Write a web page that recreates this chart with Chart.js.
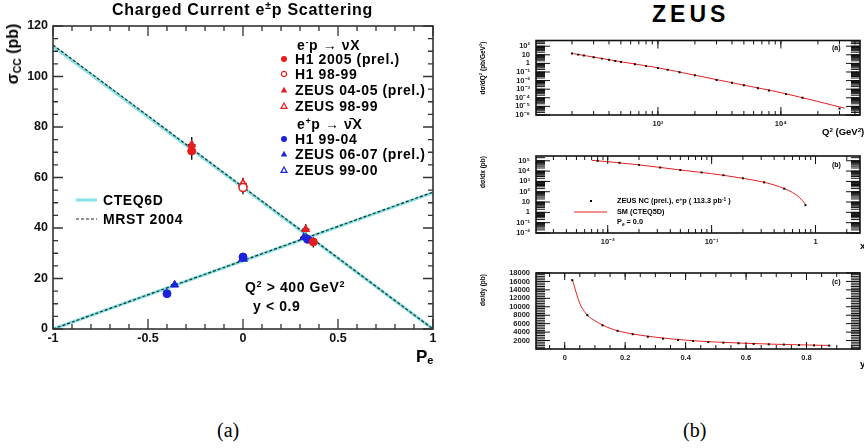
<!DOCTYPE html>
<html>
<head>
<meta charset="utf-8">
<script src="https://cdn.jsdelivr.net/npm/chart.js@4.4.1/dist/chart.umd.min.js"></script>
<style>
  html, body { margin: 0; padding: 0; background: #fff; overflow: hidden; }
  #page { position: relative; width: 864px; height: 448px; overflow: hidden;
          font-family: "Liberation Sans", Arial, Helvetica, sans-serif; color: #000; }
  canvas { position: absolute; }
  .t { position: absolute; white-space: nowrap; font-weight: bold; line-height: 1; transform: translateY(-50%); }
  .lg { font-size: 14px; letter-spacing: 0.6px; }
  .rot { position: absolute; white-space: nowrap; font-weight: bold; line-height: 1;
         transform: translate(-50%, -50%) rotate(-90deg); }
  .cap { position: absolute; font-family: "Liberation Serif", "Times New Roman", serif; font-size: 20px;
         transform: translateY(-50%); line-height: 1; }
  svg { position: absolute; overflow: visible; }
  sup { font-size: 65%; vertical-align: 0.55em; line-height: 0; }
  sub { font-size: 65%; vertical-align: -0.25em; line-height: 0; }
</style>
</head>
<body>
<div id="page">
  <canvas id="ccChart" width="440" height="380" style="left:0;top:0"></canvas>
  <canvas id="q2Chart" width="404" height="110" style="left:460px;top:30px"></canvas>
  <canvas id="xChart" width="404" height="110" style="left:460px;top:145px"></canvas>
  <canvas id="yChart" width="404" height="110" style="left:460px;top:262px"></canvas>

  <!-- panel (a) texts -->
  <div class="t" style="left:112px;top:10px;font-size:16px;letter-spacing:0.75px">Charged Current e<sup>±</sup>p Scattering</div>
  <div class="rot" style="left:13px;top:54px;font-size:16px">σ<sub>CC</sub> (pb)</div>
  <div class="t" style="left:416px;top:356px;font-size:17px">P<sub>e</sub></div>

  <div class="t lg" style="left:297px;top:45px">e<sup>-</sup>p → νX</div>
  <svg style="left:284px;top:59px" width="1" height="1"><circle cx="0" cy="0" r="3" fill="#e81c1c"/></svg>
  <div class="t lg" style="left:295px;top:59px">H1 2005 (prel.)</div>
  <svg style="left:284px;top:74px" width="1" height="1"><circle cx="0" cy="0" r="2.6" fill="none" stroke="#e81c1c" stroke-width="1.2"/></svg>
  <div class="t lg" style="left:295px;top:74px">H1 98-99</div>
  <svg style="left:284px;top:90px" width="1" height="1"><path d="M0,-3.2 L3.2,2.5 L-3.2,2.5 Z" fill="#e81c1c"/></svg>
  <div class="t lg" style="left:295px;top:90px">ZEUS 04-05 (prel.)</div>
  <svg style="left:284px;top:106px" width="1" height="1"><path d="M0,-3 L3,2.4 L-3,2.4 Z" fill="none" stroke="#e81c1c" stroke-width="1.2"/></svg>
  <div class="t lg" style="left:295px;top:106px">ZEUS 98-99</div>
  <div class="t lg" style="left:297px;top:124px">e<sup>+</sup>p → ν̄X</div>
  <svg style="left:284px;top:139px" width="1" height="1"><circle cx="0" cy="0" r="3" fill="#1a22dd"/></svg>
  <div class="t lg" style="left:295px;top:139px">H1 99-04</div>
  <svg style="left:284px;top:154px" width="1" height="1"><path d="M0,-3.2 L3.2,2.5 L-3.2,2.5 Z" fill="#1a22dd"/></svg>
  <div class="t lg" style="left:295px;top:154px">ZEUS 06-07 (prel.)</div>
  <svg style="left:284px;top:170px" width="1" height="1"><path d="M0,-3 L3,2.4 L-3,2.4 Z" fill="none" stroke="#1a22dd" stroke-width="1.2"/></svg>
  <div class="t lg" style="left:295px;top:170px">ZEUS 99-00</div>

  <svg style="left:76px;top:200px" width="1" height="1"><line x1="0" y1="0" x2="21" y2="0" stroke="#86e2e4" stroke-width="3"/></svg>
  <div class="t lg" style="left:103px;top:200px">CTEQ6D</div>
  <svg style="left:76px;top:219px" width="1" height="1"><line x1="0" y1="0" x2="21" y2="0" stroke="#222" stroke-width="1.2" stroke-dasharray="3,2"/></svg>
  <div class="t lg" style="left:103px;top:219px">MRST 2004</div>

  <div class="t lg" style="left:245px;top:287px">Q<sup>2</sup> &gt; 400 GeV<sup>2</sup></div>
  <div class="t lg" style="left:253px;top:306px">y &lt; 0.9</div>

  <!-- panel (b) texts -->
  <div class="t" style="left:652px;top:14px;font-size:23px;letter-spacing:4px">ZEUS</div>
  <div class="rot" style="left:483px;top:68px;font-size:6.5px">dσ/dQ<sup>2</sup> (pb/GeV<sup>2</sup>)</div>
  <div class="rot" style="left:483px;top:172px;font-size:6.5px">dσ/dx (pb)</div>
  <div class="rot" style="left:483px;top:290px;font-size:6.5px">dσ/dy (pb)</div>
  <div class="t" style="left:832px;top:47px;font-size:7px">(a)</div>
  <div class="t" style="left:832px;top:164px;font-size:7px">(b)</div>
  <div class="t" style="left:832px;top:281px;font-size:7px">(c)</div>
  <div class="t" style="left:822px;top:132px;font-size:9.5px">Q<sup>2</sup> (GeV<sup>2</sup>)</div>
  <div class="t" style="left:860px;top:246px;font-size:9.5px">x</div>
  <div class="t" style="left:860px;top:364px;font-size:9.5px">y</div>

  <svg style="left:591px;top:201px" width="1" height="1"><rect x="-1" y="-1" width="2" height="2" fill="#000"/></svg>
  <div class="t" style="left:617px;top:201px;font-size:7.3px">ZEUS NC (prel.), e<sup>+</sup>p ( 113.3 pb<sup>-1</sup> )</div>
  <svg style="left:574px;top:212px" width="1" height="1"><line x1="0" y1="0" x2="33" y2="0" stroke="#e82020" stroke-width="1"/></svg>
  <div class="t" style="left:617px;top:212px;font-size:7.3px">SM (CTEQ5D)</div>
  <div class="t" style="left:617px;top:222px;font-size:7.3px">P<sub>e</sub> = 0.0</div>

  <div class="cap" style="left:217px;top:430px">(a)</div>
  <div class="cap" style="left:683px;top:430px">(b)</div>
</div>

<script>
// ---------- panel (a): sigma_CC vs lepton polarisation ----------
const peEnds = [-1, 1];
const cteqEminus = [112, 0];
const cteqEplus = [0, 54];
const mrstEminus = [112.5, 0];
const mrstEplus = [0, 54.2];

const h1_2005_pe = [-0.27, 0.37];
const h1_2005_xs = [70.5, 34.5];
const h1_2005_err = [3.5, 2.2];
const h1_9899_pe = [0.0];
const h1_9899_xs = [56.0];
const h1_9899_err = [2.6];
const zeus0405_pe = [-0.27, 0.33];
const zeus0405_xs = [73.0, 39.5];
const zeus0405_err = [3.0, 2.0];
const zeus9899_pe = [0.0];
const zeus9899_xs = [57.5];
const zeus9899_err = [2.4];
const h19904_pe = [-0.40, 0.0, 0.34];
const h19904_xs = [14.0, 28.5, 35.5];
const h19904_err = [1.0, 1.0, 1.4];
const zeus0607_pe = [-0.36, 0.32];
const zeus0607_xs = [17.5, 36.3];
const zeus0607_err = [0.9, 1.5];
const zeus9900_pe = [0.0];
const zeus9900_xs = [27.8];
const zeus9900_err = [1.0];

const ccTicksX = [-1, -0.5, 0, 0.5, 1];
const ccTicksY = [0, 20, 40, 60, 80, 100, 120];

// ---------- panel (b): ZEUS NC e+p ----------
const q2Bins = [200, 225, 250, 300, 350, 400, 450, 500, 650, 800, 1000, 1200, 1500, 2000, 3000, 4000, 5000, 6500, 8000, 11000, 15000, 30000];
const dsdq2 = [14, 10.5, 8.3, 5.3, 3.6, 2.6, 1.95, 1.5, 0.8, 0.5, 0.3, 0.18, 0.093, 0.041, 0.012, 0.0055, 0.0029, 0.0013, 0.00069, 0.00027, 0.0001, 0.0000055];
const smQ2 = [200, 300, 500, 1000, 2000, 5000, 10000, 20000, 33000];
const smDsdq2 = [14.5, 5.4, 1.55, 0.31, 0.042, 0.003, 0.0004, 0.000037, 0.0000062];
const q2TicksX = [1000, 10000];
const q2TicksY = [1e-6, 1e-5, 1e-4, 1e-3, 1e-2, 1e-1, 1, 10, 100];

const xBins = [0.008, 0.013, 0.02, 0.032, 0.05, 0.08, 0.13, 0.2, 0.32, 0.5, 0.8];
const dsdx = [1.0e5, 6.3e4, 4.0e4, 2.2e4, 1.26e4, 7.4e3, 4.0e3, 2.0e3, 800, 200, 5];
const smX = [0.007, 0.01, 0.02, 0.05, 0.1, 0.2, 0.3, 0.4, 0.5, 0.6, 0.7, 0.8];
const smDsdx = [1.1e5, 8.2e4, 4.0e4, 1.28e4, 5.6e3, 2.0e3, 950, 450, 200, 85, 28, 6];
const xTicksX = [0.01, 0.1, 1];
const xTicksY = [1e-2, 1e-1, 1, 10, 100, 1e3, 1e4, 1e5];

const yBins = [0.025, 0.075, 0.125, 0.175, 0.225, 0.275, 0.325, 0.375, 0.425, 0.475, 0.525, 0.575, 0.625, 0.675, 0.725, 0.775, 0.825, 0.875];
const dsdy = [16300, 8000, 5600, 4300, 3500, 2900, 2450, 2150, 1900, 1650, 1500, 1350, 1200, 1100, 1050, 950, 850, 800];
const smY = [0.025, 0.05, 0.075, 0.1, 0.15, 0.2, 0.3, 0.4, 0.5, 0.6, 0.7, 0.8, 0.875];
const smDsdy = [16500, 10800, 8000, 6700, 4900, 3900, 2800, 2100, 1650, 1350, 1120, 950, 850];
const yTicksX = [0, 0.2, 0.4, 0.6, 0.8];
const yTicksY = [2000, 4000, 6000, 8000, 10000, 12000, 14000, 16000, 18000];

// ---------- helpers ----------
const FONT = '"Liberation Sans", Arial, Helvetica, sans-serif';
const RED = '#e81c1c', BLUE = '#1a22dd';
const pts = (xs, ys) => xs.map((x, i) => ({ x: x, y: ys[i] }));
const sup = { '-': '⁻', '0': '⁰', '1': '¹', '2': '²', '3': '³', '4': '⁴', '5': '⁵', '6': '⁶', '7': '⁷', '8': '⁸', '9': '⁹' };
function powLabel(v) {
  const e = Math.round(Math.log10(v));
  if (e === 0) return '1';
  if (e === 1) return '10';
  return '10' + String(e).split('').map(c => sup[c]).join('');
}
function steps(a, b, s) {
  const out = [];
  for (let v = a; v <= b + 1e-9; v += s) out.push(+v.toFixed(6));
  return out;
}
function logMinors(min, max) {
  const out = [];
  for (let e = Math.floor(Math.log10(min)); e <= Math.ceil(Math.log10(max)); e++)
    for (let m = 1; m < 10; m++) { const v = m * Math.pow(10, e); if (v >= min && v <= max) out.push(v); }
  return out;
}
const fixTicks = vals => s => { s.ticks = vals.map(v => ({ value: v })); };
const noGrid = { display: false, drawTicks: false };

// box with inward ticks on all four sides (ROOT style)
const rootFrame = {
  id: 'rootFrame',
  afterDatasetsDraw(chart, args, o) {
    const { ctx, chartArea: a } = chart;
    const xs = chart.scales.x, ys = chart.scales.y;
    ctx.save();
    ctx.strokeStyle = o.color;
    ctx.lineWidth = o.tickWidth;
    ctx.beginPath();
    const seg = (x1, y1, x2, y2) => { ctx.moveTo(x1, y1); ctx.lineTo(x2, y2); };
    const doX = (vals, len) => vals.forEach(v => {
      const p = xs.getPixelForValue(v);
      if (p < a.left - 0.5 || p > a.right + 0.5) return;
      seg(p, a.bottom, p, a.bottom - len); seg(p, a.top, p, a.top + len);
    });
    const doY = (vals, len) => vals.forEach(v => {
      const p = ys.getPixelForValue(v);
      if (p < a.top - 0.5 || p > a.bottom + 0.5) return;
      seg(a.left, p, a.left + len, p); seg(a.right, p, a.right - len, p);
    });
    doX(o.xMajor, o.xMajorLen); doX(o.xMinor, o.xMinorLen);
    doY(o.yMajor, o.yMajorLen); doY(o.yMinor, o.yMinorLen);
    ctx.stroke();
    ctx.lineWidth = o.boxWidth;
    ctx.strokeRect(a.left, a.top, a.right - a.left, a.bottom - a.top);
    ctx.restore();
  }
};

// black error crosses drawn under the markers
const errorBars = {
  id: 'errorBars',
  beforeDatasetsDraw(chart) {
    const { ctx } = chart;
    const xs = chart.scales.x, ys = chart.scales.y;
    ctx.save();
    ctx.strokeStyle = '#111';
    ctx.lineWidth = 1.4;
    chart.data.datasets.forEach(ds => {
      if (!ds.errY) return;
      ds.data.forEach((p, i) => {
        const px = xs.getPixelForValue(p.x), py = ys.getPixelForValue(p.y);
        ctx.beginPath();
        ctx.moveTo(px, ys.getPixelForValue(p.y - ds.errY[i]));
        ctx.lineTo(px, ys.getPixelForValue(p.y + ds.errY[i]));
        ctx.moveTo(xs.getPixelForValue(p.x - 0.02), py);
        ctx.lineTo(xs.getPixelForValue(p.x + 0.02), py);
        ctx.stroke();
      });
    });
    ctx.restore();
  }
};

function markers(label, xs, ys, err, color, style, filled) {
  return {
    label: label, data: pts(xs, ys), errY: err, order: 0,
    pointStyle: style, pointRadius: style === 'triangle' ? 4.5 : 4,
    backgroundColor: filled ? color : '#fff', borderColor: color, borderWidth: filled ? 1 : 1.5,
    showLine: false
  };
}
function curve(label, xs, ys, color, width, dash, order, smooth) {
  return {
    label: label, data: pts(xs, ys), showLine: true, pointRadius: 0, order: order,
    borderColor: color, borderWidth: width, borderDash: dash || [], fill: false,
    cubicInterpolationMode: smooth ? 'monotone' : 'default', tension: 0
  };
}

Chart.defaults.font.family = FONT;
Chart.defaults.animation = false;
Chart.defaults.responsive = false;
Chart.defaults.plugins.legend.display = false;
Chart.defaults.plugins.tooltip.enabled = false;

// ---------- chart (a) ----------
new Chart(document.getElementById('ccChart'), {
  type: 'scatter',
  data: {
    datasets: [
      markers('H1 2005 (prel.)', h1_2005_pe, h1_2005_xs, h1_2005_err, RED, 'circle', true),
      markers('H1 98-99', h1_9899_pe, h1_9899_xs, h1_9899_err, RED, 'circle', false),
      markers('ZEUS 04-05 (prel.)', zeus0405_pe, zeus0405_xs, zeus0405_err, RED, 'triangle', true),
      markers('ZEUS 98-99', zeus9899_pe, zeus9899_xs, zeus9899_err, RED, 'triangle', false),
      markers('H1 99-04', h19904_pe, h19904_xs, h19904_err, BLUE, 'circle', true),
      markers('ZEUS 06-07 (prel.)', zeus0607_pe, zeus0607_xs, zeus0607_err, BLUE, 'triangle', true),
      markers('ZEUS 99-00', zeus9900_pe, zeus9900_xs, zeus9900_err, BLUE, 'triangle', false),
      curve('MRST 2004 e-p', peEnds, mrstEminus, '#1a2a2a', 1.2, [3, 2], 1),
      curve('MRST 2004 e+p', peEnds, mrstEplus, '#1a2a2a', 1.2, [3, 2], 1),
      curve('CTEQ6D e-p', peEnds, cteqEminus, '#86e2e4', 3.2, null, 2),
      curve('CTEQ6D e+p', peEnds, cteqEplus, '#86e2e4', 3.2, null, 2)
    ]
  },
  options: {
    layout: { padding: { left: 0, right: 7, top: 26, bottom: 0 } },
    scales: {
      x: {
        type: 'linear', min: -1, max: 1,
        afterBuildTicks: fixTicks(ccTicksX),
        afterFit: s => { s.height = 51; },
        grid: noGrid, border: { display: false },
        ticks: { autoSkip: false, maxRotation: 0, padding: 2, color: '#111',
                 font: { size: 12.5, weight: 'bold' }, callback: v => String(v) }
      },
      y: {
        type: 'linear', min: 0, max: 120,
        afterBuildTicks: fixTicks(ccTicksY),
        afterFit: s => { s.width = 53; },
        grid: noGrid, border: { display: false },
        ticks: { padding: 5, color: '#111', font: { size: 12.5, weight: 'bold' } }
      }
    },
    plugins: {
      rootFrame: {
        color: '#333', tickWidth: 1.3, boxWidth: 1.6,
        xMajor: ccTicksX, xMinor: steps(-1, 1, 0.1), xMajorLen: 10, xMinorLen: 5,
        yMajor: ccTicksY, yMinor: steps(0, 120, 5), yMajorLen: 10, yMinorLen: 5
      }
    }
  },
  plugins: [errorBars, rootFrame]
});

// ---------- ZEUS sub-plots ----------
function subChart(id, xScale, yScale, datasets, frame, top, xHeight) {
  const tickFont = { size: 7.5, weight: 'bold' };
  xScale.afterFit = s => { s.height = xHeight; };
  xScale.grid = noGrid; xScale.border = { display: false };
  xScale.ticks = Object.assign({ autoSkip: false, maxRotation: 0, padding: 4, color: '#222', font: tickFont }, xScale.ticks || {});
  yScale.afterFit = s => { s.width = 76; };
  yScale.grid = noGrid; yScale.border = { display: false };
  yScale.ticks = Object.assign({ autoSkip: false, padding: 6, color: '#222', font: tickFont }, yScale.ticks || {});
  return new Chart(document.getElementById(id), {
    type: 'scatter',
    data: { datasets: datasets },
    options: {
      layout: { padding: { left: 0, right: 1, top: top, bottom: 0 } },
      scales: { x: xScale, y: yScale },
      plugins: { rootFrame: Object.assign({ color: '#111', tickWidth: 1, boxWidth: 1.6 }, frame) }
    },
    plugins: [rootFrame]
  });
}
function dots(label, xs, ys) {
  return { label: label, data: pts(xs, ys), showLine: false, order: 0,
           pointStyle: 'rect', pointRadius: 1.4, backgroundColor: '#000', borderColor: '#000', borderWidth: 0 };
}

subChart('q2Chart',
  { type: 'logarithmic', min: 102, max: 44000, afterBuildTicks: fixTicks(q2TicksX), ticks: { callback: v => powLabel(v) } },
  { type: 'logarithmic', min: 1e-6, max: 460, afterBuildTicks: fixTicks(q2TicksY), ticks: { callback: v => powLabel(v) } },
  [dots('ZEUS NC e+p', q2Bins, dsdq2), curve('SM (CTEQ5D)', smQ2, smDsdq2, '#e82020', 1, null, 1, true)],
  { xMajor: [100, 1000, 10000], xMinor: logMinors(102, 44000), xMajorLen: 8, xMinorLen: 4,
    yMajor: q2TicksY, yMinor: logMinors(1e-6, 460), yMajorLen: 14, yMinorLen: 9 },
  7, 25);

subChart('xChart',
  { type: 'logarithmic', min: 0.00204, max: 2.68, afterBuildTicks: fixTicks(xTicksX), ticks: { callback: v => powLabel(v) } },
  { type: 'logarithmic', min: 0.01, max: 2.9e5, afterBuildTicks: fixTicks(xTicksY), ticks: { callback: v => powLabel(v) } },
  [dots('ZEUS NC e+p', xBins, dsdx), curve('SM (CTEQ5D)', smX, smDsdx, '#e82020', 1, null, 1, true)],
  { xMajor: xTicksX, xMinor: logMinors(0.00204, 2.68), xMajorLen: 8, xMinorLen: 4,
    yMajor: xTicksY, yMinor: logMinors(0.01, 2.9e5), yMajorLen: 14, yMinorLen: 9 },
  11, 22);

subChart('yChart',
  { type: 'linear', min: -0.095, max: 0.977, afterBuildTicks: fixTicks(yTicksX), ticks: { callback: v => String(v) } },
  { type: 'linear', min: 0, max: 18000, afterBuildTicks: fixTicks(yTicksY), ticks: { callback: v => String(v) } },
  [dots('ZEUS NC e+p', yBins, dsdy), curve('SM (CTEQ5D)', smY, smDsdy, '#e82020', 1, null, 1, true)],
  { xMajor: yTicksX, xMinor: steps(-0.05, 0.95, 0.05), xMajorLen: 7, xMinorLen: 4,
    yMajor: yTicksY, yMinor: steps(0, 18000, 400), yMajorLen: 14, yMinorLen: 9 },
  11, 23);
</script>
</body>
</html>
